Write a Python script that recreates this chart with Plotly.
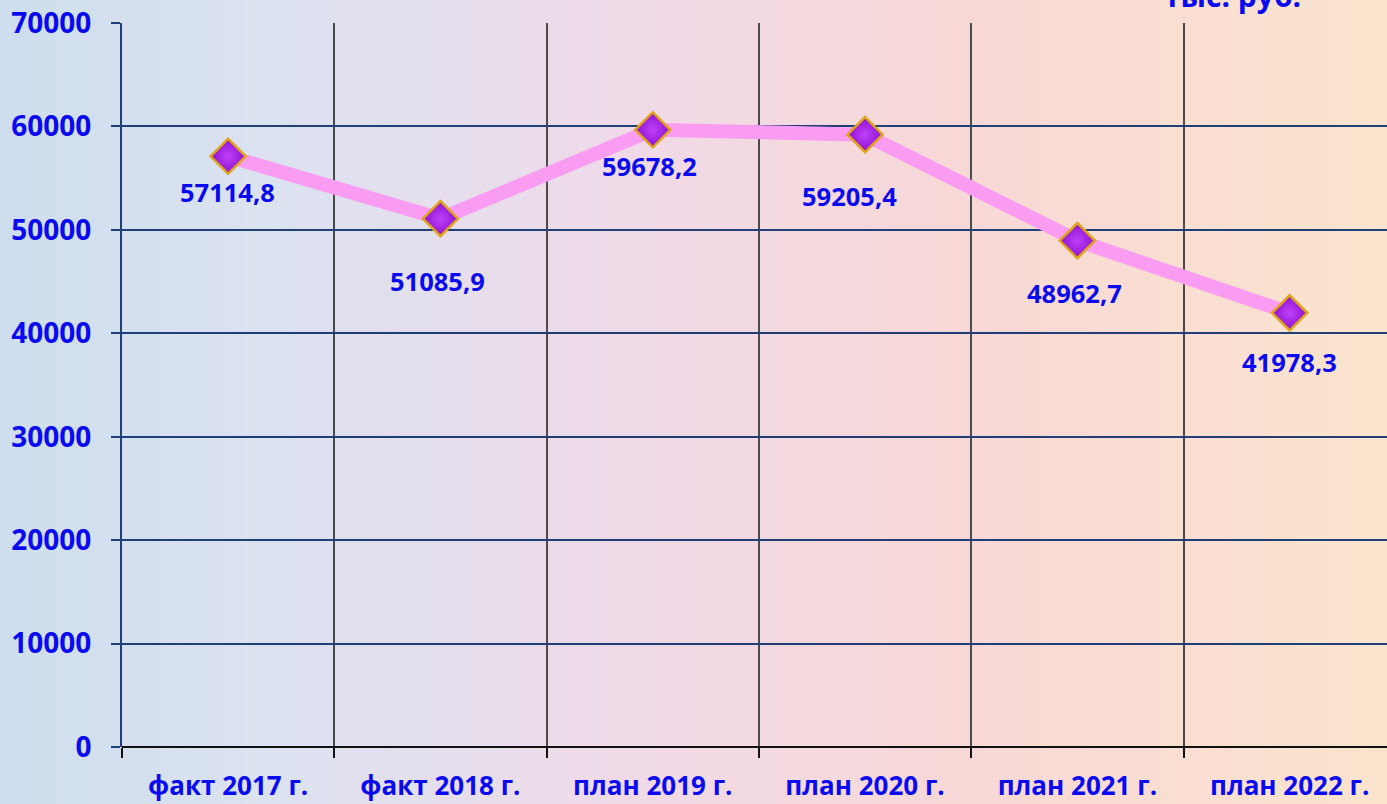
import plotly.graph_objects as go

categories = ["факт 2017 г.", "факт 2018 г.", "план 2019 г.", "план 2020 г.", "план 2021 г.", "план 2022 г."]
values = [57114.8, 51085.9, 59678.2, 59205.4, 48962.7, 41978.3]
value_labels = ["57114,8", "51085,9", "59678,2", "59205,4", "48962,7", "41978,3"]
y_ticks = [0, 10000, 20000, 30000, 40000, 50000, 60000, 70000]
y_tick_labels = ["0", "10000", "20000", "30000", "40000", "50000", "60000", "70000"]
unit_label = "тыс. руб."

# label placement (pixels below / beside each point)
label_yshift = [-36, -62, -36, -61, -52, -49]
label_xshift = [-1, -3, -3, -16, -3, 0]

W, H = 1387, 804
ML, MT, MB, MR = 122, 23, 57, 0
plot_w = W - ML - MR
plot_h = H - MT - MB
cat_px = 212.3
n = len(categories)
x_hi = -0.5 + plot_w / cat_px

BLUE = "#0a0af0"
FONT = "Open Sans"

fig = go.Figure()

# background gradient stripes
stops = [(0.0, (206, 222, 238)), (0.2, (220, 226, 240)), (0.45, (240, 218, 232)),
         (0.7, (248, 216, 214)), (1.0, (251, 228, 206))]
def col(t):
    for (t0, c0), (t1, c1) in zip(stops[:-1], stops[1:]):
        if t0 <= t <= t1:
            f = (t - t0) / (t1 - t0)
            return "rgb(%d,%d,%d)" % tuple(round(a + (b - a) * f) for a, b in zip(c0, c1))
    return "rgb(%d,%d,%d)" % stops[-1][1]

nstripes = 80
shapes = []
for i in range(nstripes):
    px0 = W * i / nstripes
    px1 = W * (i + 1) / nstripes + 1
    shapes.append(dict(type="rect", xref="paper", yref="paper",
                       x0=(px0 - ML) / plot_w, x1=(px1 - ML) / plot_w,
                       y0=-MB / plot_h - 0.01, y1=1 + MT / plot_h + 0.01,
                       fillcolor=col((i + 0.5) / nstripes), line=dict(width=0), layer="below"))

xs = list(range(n))
fig.add_trace(go.Scatter(
    x=xs, y=values, mode="lines+markers",
    line=dict(color="#fa9cf2", width=14),
    marker=dict(symbol="diamond", size=27, color="#8c10d0",
                gradient=dict(type="radial", color="#c040f8"),
                line=dict(color="#e0a416", width=2.5)),
    hoverinfo="skip", showlegend=False,
))

annotations = []
for x, v, t, dy, dx in zip(xs, values, value_labels, label_yshift, label_xshift):
    annotations.append(dict(x=x, y=v, xref="x", yref="y", text=t, showarrow=False,
                            yshift=dy, xshift=dx,
                            font=dict(family=FONT, size=25.5, color=BLUE, weight="bold")))
annotations.append(dict(x=(1232 - ML) / plot_w, y=1, xref="paper", yref="paper",
                        text=unit_label, showarrow=False, xanchor="center", yanchor="bottom",
                        yshift=5,
                        font=dict(family=FONT, size=30, color=BLUE, weight="bold")))

fig.update_layout(
    width=W, height=H,
    margin=dict(l=ML, r=MR, t=MT, b=MB, pad=0),
    paper_bgcolor="#dfe3ee", plot_bgcolor="rgba(0,0,0,0)",
    shapes=shapes, annotations=annotations,
    font=dict(family=FONT, color=BLUE),
)
fig.update_xaxes(
    range=[-0.5, x_hi], tickmode="array", tickvals=xs, ticktext=categories,
    showgrid=False, ticks="", ticklabelstandoff=21, automargin=False,
    tickfont=dict(family=FONT, size=26, color=BLUE, weight="bold"),
    showline=False, zeroline=False,
    minor=dict(tickmode="array", tickvals=[i - 0.5 for i in range(n + 1)],
               showgrid=True, gridcolor="#4a4a4a", gridwidth=1.5,
               ticks="outside", ticklen=10, tickcolor="#111111", tickwidth=2),
)
fig.update_yaxes(
    range=[0, 70000], tickmode="array", tickvals=y_ticks, ticktext=y_tick_labels,
    showgrid=True, gridcolor="#1f3f78", gridwidth=2, automargin=False,
    ticks="outside", ticklen=9, tickcolor="#1f3f78", tickwidth=2,
    ticklabelstandoff=14,
    tickfont=dict(family=FONT, size=28, color=BLUE, weight="bold"),
    showline=True, linecolor="#1f3f78", linewidth=2,
    zeroline=True, zerolinecolor="#111111", zerolinewidth=2,
)

fig.write_html("out.html", config={"displayModeBar": False},
               post_script="document.body.style.margin='0';document.body.style.overflow='hidden';")
